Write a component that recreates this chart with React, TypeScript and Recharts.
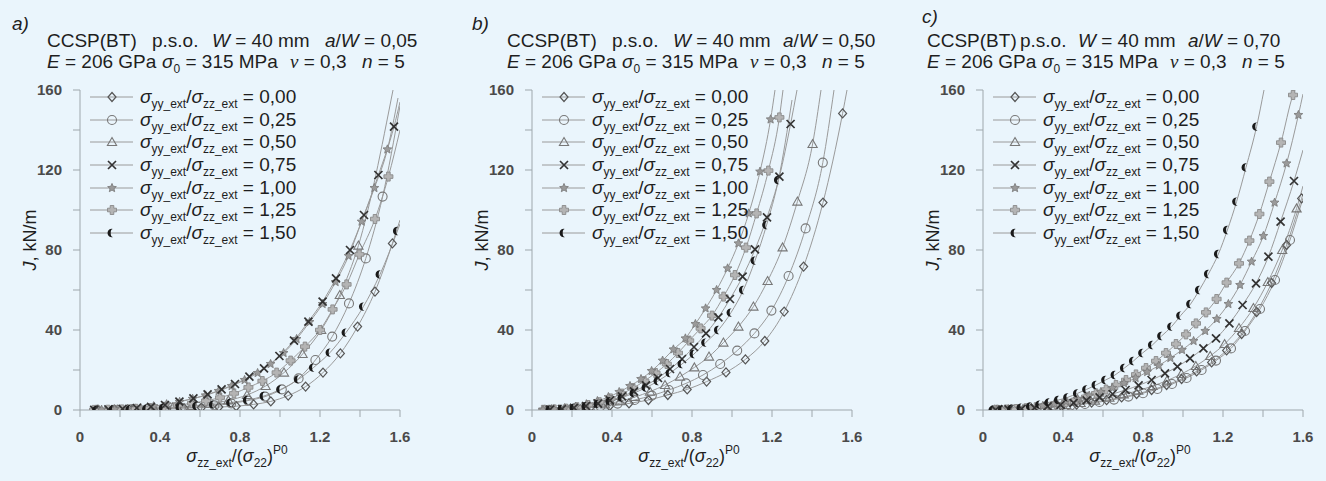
import React from "react";
import { ComposedChart, Line, XAxis, YAxis, Legend } from "recharts";

// axes
const xTicks = [0, 0.2, 0.4, 0.6, 0.8, 1.0, 1.2, 1.4, 1.6];
const xTickLabels = ["0", "", "0.4", "", "0.8", "", "1.2", "", "1.6"];
const yTicks = [0, 20, 40, 60, 80, 100, 120, 140, 160];
const yTickLabels = ["0", "", "40", "", "80", "", "120", "", "160"];

// legend: sigma_yy_ext / sigma_zz_ext
const ratios = ["0,00", "0,25", "0,50", "0,75", "1,00", "1,25", "1,50"];
const markers = ["diamond", "circle", "triangle", "cross", "star", "plus", "moon"];

// ---- panel a) a/W = 0,05
const a000x = [0.087, 0.174, 0.26, 0.347, 0.434, 0.52, 0.607, 0.694, 0.781, 0.868, 0.954, 1.041, 1.128, 1.215, 1.302, 1.388, 1.475, 1.562];
const a000J = [0.03, 0.1, 0.25, 0.4, 0.6, 0.9, 1.2, 1.5, 1.9, 2.8, 4.3, 7.2, 11.7, 18.7, 28.3, 41.7, 59.2, 83.3];
const a025x = [0.084, 0.168, 0.252, 0.336, 0.42, 0.504, 0.588, 0.672, 0.756, 0.84, 0.925, 1.009, 1.093, 1.177, 1.261, 1.345, 1.429, 1.513];
const a025J = [0.05, 0.15, 0.3, 0.5, 0.8, 1.1, 1.6, 2.3, 3.3, 4.7, 6.7, 10.3, 15.8, 25, 36.7, 53.3, 75.8, 106.7];
const a050x = [0.093, 0.186, 0.278, 0.371, 0.464, 0.557, 0.65, 0.742, 0.835, 0.928, 1.02, 1.113, 1.206, 1.299, 1.392];
const a050J = [0.05, 0.2, 0.45, 0.8, 1.3, 2.0, 3.1, 4.8, 7.5, 12, 18.7, 28, 40, 57.5, 82.2];
const a075x = [0.071, 0.142, 0.213, 0.284, 0.355, 0.425, 0.497, 0.567, 0.638, 0.708, 0.775, 0.847, 0.92, 0.997, 1.07, 1.142, 1.213, 1.28, 1.35, 1.42, 1.492, 1.57];
const a075J = [0.1, 0.3, 0.6, 1.0, 1.6, 2.5, 4.2, 5.8, 7.8, 10.3, 13, 16.7, 20.8, 27, 34.7, 44.2, 54.2, 65.8, 80, 97.5, 117.5, 141.7];
const a100x = [0.108, 0.173, 0.238, 0.303, 0.368, 0.433, 0.498, 0.563, 0.628, 0.693, 0.758, 0.823, 0.888, 0.953, 1.018, 1.083, 1.148, 1.213, 1.278, 1.343, 1.408, 1.472, 1.537];
const a100J = [0.15, 0.4, 0.7, 1.2, 1.9, 2.9, 4.1, 5.6, 7.3, 9.5, 12, 15, 18.5, 23, 28.5, 35.5, 44, 53, 64, 77, 94.2, 111, 130.3];
const a125x = [0.07, 0.14, 0.21, 0.28, 0.35, 0.42, 0.49, 0.56, 0.63, 0.7, 0.77, 0.842, 0.912, 0.983, 1.053, 1.125, 1.2, 1.263, 1.333, 1.397, 1.475, 1.542];
const a125J = [0.05, 0.15, 0.3, 0.6, 1.0, 1.6, 2.4, 3.4, 4.6, 6.2, 8.3, 11.3, 14.5, 18.7, 24.7, 31.7, 40, 50.3, 62.8, 77.8, 95.5, 116.7];
const a150x = [0.083, 0.166, 0.25, 0.333, 0.417, 0.5, 0.583, 0.667, 0.753, 0.837, 0.92, 1.003, 1.092, 1.167, 1.25, 1.33, 1.417, 1.5, 1.587];
const a150J = [0.05, 0.2, 0.35, 0.6, 1.0, 1.4, 2.0, 2.7, 3.7, 5, 7, 10.3, 15.3, 21.2, 28.7, 38.7, 51.7, 67.8, 89.5];
// where each fitted curve leaves the plot (line only, no marker)
const aEnds = [[1.6, 95], [1.6, 152], [1.565, 160], [1.6, 154], [1.59, 156], [1.6, 140], [1.6, 93]];

// ---- panel b) a/W = 0,50
const b000x = [0.097, 0.194, 0.291, 0.388, 0.485, 0.582, 0.679, 0.776, 0.873, 0.97, 1.067, 1.164, 1.261, 1.358, 1.455, 1.553];
const b000J = [0.2, 0.6, 1.2, 2.0, 3.3, 5.0, 7.5, 10.3, 14.2, 18.8, 25.3, 34.5, 49.2, 71.7, 103.7, 148.3];
const b025x = [0.086, 0.171, 0.257, 0.342, 0.428, 0.513, 0.599, 0.684, 0.77, 0.855, 0.941, 1.026, 1.112, 1.197, 1.283, 1.368, 1.454];
const b025J = [0.1, 0.4, 1.0, 1.9, 3.2, 5.0, 7.2, 10, 13.3, 17.5, 23, 29.7, 38.3, 49.7, 67, 90.8, 123.7];
const b050x = [0.065, 0.14, 0.215, 0.29, 0.365, 0.44, 0.515, 0.59, 0.665, 0.74, 0.812, 0.885, 0.957, 1.032, 1.107, 1.178, 1.253, 1.327, 1.403];
const b050J = [0.1, 0.3, 0.8, 1.6, 2.8, 4.4, 6.5, 9.2, 12.5, 16.7, 21.3, 26.7, 33.7, 41.7, 51.7, 64.5, 81.3, 104.2, 133];
const b075x = [0.09, 0.15, 0.21, 0.27, 0.33, 0.39, 0.45, 0.51, 0.57, 0.63, 0.69, 0.75, 0.81, 0.87, 0.932, 0.99, 1.053, 1.115, 1.175, 1.237, 1.293];
const b075J = [0.2, 0.5, 1.1, 2.0, 3.2, 4.8, 6.8, 9.3, 12.3, 16, 20.5, 25.5, 31.5, 38.3, 46.3, 55.5, 66.7, 80.3, 96.3, 116.7, 143];
const b100x = [0.055, 0.11, 0.163, 0.218, 0.272, 0.327, 0.382, 0.436, 0.49, 0.545, 0.598, 0.653, 0.707, 0.767, 0.817, 0.868, 0.923, 0.978, 1.032, 1.084, 1.14, 1.193];
const b100J = [0.1, 0.4, 0.9, 1.7, 2.9, 4.5, 6.5, 9.0, 12.0, 15.5, 19.5, 24.7, 30.3, 35.8, 43, 50.8, 60, 70.8, 83.3, 98.3, 119.2, 145.3];
const b125x = [0.056, 0.112, 0.169, 0.225, 0.281, 0.337, 0.393, 0.45, 0.506, 0.562, 0.618, 0.674, 0.73, 0.786, 0.843, 0.9, 0.958, 1.015, 1.07, 1.123, 1.182, 1.237];
const b125J = [0.1, 0.3, 0.7, 1.4, 2.5, 3.9, 5.8, 8.2, 11, 14.5, 18.5, 23, 28.5, 34.7, 40.8, 47.2, 56.7, 67.5, 81.2, 98.3, 119.7, 146.3];
const b150x = [0.09, 0.15, 0.21, 0.27, 0.33, 0.39, 0.45, 0.51, 0.57, 0.63, 0.69, 0.75, 0.81, 0.868, 0.932, 0.995, 1.057, 1.115, 1.173, 1.232];
const b150J = [0.2, 0.5, 1.1, 1.9, 3, 4.4, 6.2, 8.5, 11.2, 14.5, 18.5, 23, 28, 33.7, 40, 48.7, 60, 74.7, 92.5, 115];
const bEnds = [[1.575, 160], [1.51, 160], [1.445, 160], [1.325, 160], [1.215, 160], [1.255, 160], [1.3, 155]];

// ---- panel c) a/W = 0,70
const c000x = [0.093, 0.168, 0.243, 0.318, 0.393, 0.468, 0.543, 0.618, 0.693, 0.768, 0.843, 0.918, 0.993, 1.068, 1.143, 1.218, 1.293, 1.368, 1.443, 1.518, 1.593];
const c000J = [0.1, 0.3, 0.7, 1.2, 1.9, 2.7, 3.7, 4.9, 6.3, 8, 10, 12.5, 15.5, 19.3, 23.8, 29.8, 38, 49, 63.5, 82.5, 105.8];
const c025x = [0.073, 0.146, 0.218, 0.291, 0.364, 0.437, 0.51, 0.582, 0.655, 0.727, 0.8, 0.872, 0.945, 1.018, 1.093, 1.165, 1.24, 1.31, 1.385, 1.46, 1.535];
const c025J = [0.05, 0.2, 0.5, 0.9, 1.5, 2.2, 3, 4, 5.2, 6.7, 8.4, 10.5, 13, 16, 20, 24.7, 30.8, 39.5, 50.5, 65, 85];
const c050x = [0.056, 0.128, 0.2, 0.272, 0.344, 0.416, 0.488, 0.56, 0.632, 0.704, 0.776, 0.848, 0.92, 0.992, 1.064, 1.136, 1.208, 1.28, 1.352, 1.424, 1.496, 1.568];
const c050J = [0.05, 0.2, 0.5, 1.0, 1.7, 2.5, 3.5, 4.7, 6.1, 7.8, 9.7, 12, 14.7, 18, 22, 27, 33, 41, 51, 64, 80, 100.8];
const c075x = [0.063, 0.128, 0.193, 0.258, 0.323, 0.388, 0.453, 0.518, 0.583, 0.648, 0.713, 0.778, 0.843, 0.91, 0.972, 1.035, 1.102, 1.165, 1.232, 1.298, 1.365, 1.427, 1.488, 1.555];
const c075J = [0.1, 0.3, 0.6, 1.1, 1.8, 2.6, 3.6, 4.8, 6.3, 8, 10, 12.3, 15, 18.3, 21.7, 25.8, 30.8, 35.8, 43.3, 52.5, 63.3, 76.7, 94.2, 114.5];
const c100x = [0.067, 0.125, 0.183, 0.241, 0.299, 0.357, 0.415, 0.473, 0.531, 0.589, 0.647, 0.705, 0.763, 0.821, 0.879, 0.937, 0.995, 1.053, 1.111, 1.169, 1.227, 1.285, 1.343, 1.402, 1.458, 1.518, 1.577];
const c100J = [0.1, 0.3, 0.7, 1.3, 2.1, 3.1, 4.3, 5.6, 7.2, 9, 11, 13.4, 16, 19, 22.2, 26, 30, 34.5, 39.5, 45.5, 53, 62.5, 74.2, 87, 103.7, 123.3, 147.5];
const c125x = [0.065, 0.115, 0.165, 0.215, 0.265, 0.315, 0.365, 0.415, 0.465, 0.515, 0.565, 0.615, 0.665, 0.715, 0.765, 0.815, 0.865, 0.915, 0.965, 1.015, 1.065, 1.115, 1.168, 1.218, 1.28, 1.332, 1.382, 1.432, 1.49, 1.55];
const c125J = [0.1, 0.25, 0.5, 0.9, 1.4, 2.0, 2.9, 3.9, 5.1, 6.6, 8.3, 10.2, 12.5, 15, 17.8, 21, 24.5, 28.5, 33, 37.8, 43.3, 48.8, 55.5, 63.7, 73.3, 84.7, 98, 114.2, 133.7, 157.5];
const c150x = [0.05, 0.097, 0.143, 0.19, 0.237, 0.283, 0.33, 0.377, 0.423, 0.472, 0.518, 0.565, 0.613, 0.66, 0.707, 0.752, 0.798, 0.847, 0.893, 0.943, 0.988, 1.038, 1.082, 1.127, 1.177, 1.222, 1.268, 1.315, 1.368];
const c150J = [0.1, 0.3, 0.6, 1.1, 1.8, 2.7, 3.8, 5, 6.3, 8.3, 10.3, 12.5, 15, 17.5, 21, 24.5, 28.5, 32.5, 37, 41.7, 47.2, 53, 60, 68, 78, 90, 104.2, 121.3, 141.7];
const cEnds = [[1.6, 108], [1.6, 106], [1.6, 112], [1.6, 130], [1.6, 158], [1.56, 160], [1.405, 160]];

const BG = "#eaf5fc";
const AXIS = "#9ea7ac";
const CURVE = "#9a9a9a";
const SANS = '"Liberation Sans", Arial, sans-serif';

const toPoints = (xs: number[], js: number[]) => xs.map((x, i) => ({ x, J: js[i] }));

function starPath(cx: number, cy: number, R: number, r: number) {
  let d = "";
  for (let i = 0; i < 10; i++) {
    const rad = i % 2 === 0 ? R : r;
    const a = -Math.PI / 2 + (i * Math.PI) / 5;
    d += (i === 0 ? "M" : "L") + (cx + rad * Math.cos(a)).toFixed(2) + "," + (cy + rad * Math.sin(a)).toFixed(2);
  }
  return d + "Z";
}

function Marker({ kind, mx, my }: { kind: string; mx: number; my: number }) {
  const cx = mx;
  const cy = my;
  switch (kind) {
    case "diamond":
      return <path d={`M${cx},${cy - 4.5}L${cx + 4},${cy}L${cx},${cy + 4.5}L${cx - 4},${cy}Z`} fill="none" stroke="#555" strokeWidth={1.2} />;
    case "circle":
      return <circle cx={cx} cy={cy} r={4.5} fill="none" stroke="#777" strokeWidth={1.1} />;
    case "triangle":
      return <path d={`M${cx},${cy - 4.5}L${cx + 4.6},${cy + 3.5}L${cx - 4.6},${cy + 3.5}Z`} fill="none" stroke="#777" strokeWidth={1.1} />;
    case "cross":
      return <path d={`M${cx - 4},${cy - 4}L${cx + 4},${cy + 4}M${cx - 4},${cy + 4}L${cx + 4},${cy - 4}`} stroke="#333" strokeWidth={1.7} />;
    case "star":
      return <path d={starPath(cx, cy, 4.6, 2.1)} fill="#9a9a9a" stroke="#777" strokeWidth={0.8} />;
    case "plus":
      return (
        <path
          d={`M${cx - 1.8},${cy - 4.5}H${cx + 1.8}V${cy - 1.8}H${cx + 4.5}V${cy + 1.8}H${cx + 1.8}V${cy + 4.5}H${cx - 1.8}V${cy + 1.8}H${cx - 4.5}V${cy - 1.8}H${cx - 1.8}Z`}
          fill="#b4b4b4"
          stroke="#8a8a8a"
          strokeWidth={0.9}
        />
      );
    default:
      // crescent, open to the right
      return (
        <path
          d={`M${cx + 1},${cy - 4}A4.2 4.2 0 1 0 ${cx + 1},${cy + 4}A2.3 4 0 0 1 ${cx + 1},${cy - 4}Z`}
          fill="#1a1a1a"
        />
      );
  }
}

function Sub({ children }: { children: React.ReactNode }) {
  return <span style={{ fontSize: 12, position: "relative", top: 5 }}>{children}</span>;
}

function LegendRows() {
  return (
    <div style={{ fontFamily: SANS, fontSize: 19, color: "#1e1e1e" }}>
      {ratios.map((r, i) => (
        <div key={r} style={{ display: "flex", alignItems: "center", height: 22.7, whiteSpace: "nowrap" }}>
          <svg width={46} height={22} style={{ display: "block" }}>
            <line x1={0} x2={43} y1={11} y2={11} stroke={CURVE} strokeWidth={1} />
            <Marker kind={markers[i]} mx={22} my={11} />
          </svg>
          <span style={{ marginLeft: 4 }}>
            <i>σ</i>
            <Sub>yy_ext</Sub>/<i>σ</i>
            <Sub>zz_ext</Sub> = {r}
          </span>
        </div>
      ))}
    </div>
  );
}

function XLabel({ mid }: { mid: number }) {
  return (
    <text x={mid} y={462} textAnchor="middle" fontSize={18} fontFamily={SANS} fill="#1e1e1e">
      <tspan fontStyle="italic">σ</tspan>
      <tspan fontSize={12} dy={5}>zz_ext</tspan>
      <tspan dy={-5}>/(</tspan>
      <tspan fontStyle="italic">σ</tspan>
      <tspan fontSize={12} dy={5}>22</tspan>
      <tspan dy={-5}>)</tspan>
      <tspan fontSize={12} dy={-8}>P0</tspan>
    </text>
  );
}

function YLabel({ base }: { base: number }) {
  return (
    <text x={base} y={240} transform={`rotate(-90, ${base}, 240)`} textAnchor="middle" fontSize={18} fontFamily={SANS} fill="#1e1e1e">
      <tspan fontStyle="italic">J</tspan>, kN/m
    </text>
  );
}

// draw order of markers (dark ones on top)
const drawOrder = [0, 1, 2, 5, 4, 3, 6];

function Panel({ left, series, ends }: { left: number; series: number[][][]; ends: number[][] }) {
  const pts = series.map(([xs, js]) => toPoints(xs, js));
  const tickStyle = { fontSize: 15, fill: "#4a4a4a", fontFamily: SANS, fontWeight: 700 };
  return (
    <div style={{ position: "absolute", left, top: 0 }}>
      <ComposedChart width={420} height={481} margin={{ top: 90, right: 20, bottom: 41, left: 20 }}>
        <XAxis
          type="number"
          dataKey="x"
          domain={[0, 1.6]}
          ticks={xTicks}
          interval={0}
          allowDataOverflow
          tickFormatter={(v: number) => xTickLabels[Math.round(v / 0.2)]}
          tickSize={7}
          tickMargin={14}
          height={30}
          stroke={AXIS}
          tickLine={{ stroke: AXIS }}
          tick={tickStyle}
          label={<XLabel mid={237} />}
        />
        <YAxis
          type="number"
          domain={[0, 160]}
          ticks={yTicks}
          interval={0}
          allowDataOverflow
          tickFormatter={(v: number) => yTickLabels[Math.round(v / 20)]}
          tickSize={7}
          tickMargin={11}
          width={60}
          stroke={AXIS}
          tickLine={{ stroke: AXIS }}
          tick={tickStyle}
          label={<YLabel base={36} />}
        />
        {pts.map((p, i) => (
          <Line
            key={"curve" + i}
            data={[...p, { x: ends[i][0], J: ends[i][1] }]}
            dataKey="J"
            type="monotone"
            stroke={CURVE}
            strokeWidth={1}
            dot={false}
            activeDot={false}
            isAnimationActive={false}
          />
        ))}
        {drawOrder.map((i) => (
          <Line
            key={"marks" + i}
            data={pts[i]}
            dataKey="J"
            stroke="none"
            activeDot={false}
            isAnimationActive={false}
            dot={(d: any) => (
              <g key={`m${i}-${d.index}`}>
                <Marker kind={markers[i]} mx={d.cx} my={d.cy} />
              </g>
            )}
          />
        ))}
        <Legend
          layout="vertical"
          align="center"
          verticalAlign="middle"
          wrapperStyle={{ top: 85.6, left: 90, width: 270, height: 160 }}
          content={() => <LegendRows />}
        />
      </ComposedChart>
    </div>
  );
}

function Title({ left, letter, letterLeft, letterTop, aW, offs1 }: { left: number; letter: string; letterLeft: number; letterTop: number; aW: string; offs1: number[] }) {
  const offs2 = [0, 115, 243, 315];
  const pos = (l: number, t: number): React.CSSProperties => ({ position: "absolute", left: l, top: t, whiteSpace: "nowrap", lineHeight: "21px" });
  return (
    <div style={{ fontFamily: SANS, fontSize: 19, color: "#1e1e1e" }}>
      <div style={pos(letterLeft, letterTop)}>
        <i>{letter}</i>
      </div>
      <div style={pos(left + offs1[0], 30)}>CCSP(BT)</div>
      <div style={pos(left + offs1[1], 30)}>p.s.o.</div>
      <div style={pos(left + offs1[2], 30)}>
        <i>W</i> = 40 mm
      </div>
      <div style={pos(left + offs1[3], 30)}>
        <i>a</i>/<i>W</i> = {aW}
      </div>
      <div style={pos(left + offs2[0], 51)}>
        <i>E</i> = 206 GPa
      </div>
      <div style={pos(left + offs2[1], 51)}>
        <i>σ</i>
        <Sub>0</Sub> = 315 MPa
      </div>
      <div style={pos(left + offs2[2], 51)}>
        <i style={{ fontFamily: '"Liberation Serif", serif' }}>ν</i> = 0,3
      </div>
      <div style={pos(left + offs2[3], 51)}>
        <i>n</i> = 5
      </div>
    </div>
  );
}

export default function App() {
  const aSeries = [[a000x, a000J], [a025x, a025J], [a050x, a050J], [a075x, a075J], [a100x, a100J], [a125x, a125J], [a150x, a150J]];
  const bSeries = [[b000x, b000J], [b025x, b025J], [b050x, b050J], [b075x, b075J], [b100x, b100J], [b125x, b125J], [b150x, b150J]];
  const cSeries = [[c000x, c000J], [c025x, c025J], [c050x, c050J], [c075x, c075J], [c100x, c100J], [c125x, c125J], [c150x, c150J]];
  return (
    <div style={{ position: "absolute", left: 0, top: 0, width: 1326, height: 481, background: BG, overflow: "hidden" }}>
      <Title left={47} letter="a)" letterLeft={12} letterTop={13} aW="0,05" offs1={[0, 105, 165, 278]} />
      <Title left={507} letter="b)" letterLeft={472} letterTop={13} aW="0,50" offs1={[0, 105, 166, 276]} />
      <Title left={927} letter="c)" letterLeft={922} letterTop={6} aW="0,70" offs1={[0, 93, 151, 261]} />
      <Panel left={0} series={aSeries} ends={aEnds} />
      <Panel left={452} series={bSeries} ends={bEnds} />
      <Panel left={903} series={cSeries} ends={cEnds} />
    </div>
  );
}
